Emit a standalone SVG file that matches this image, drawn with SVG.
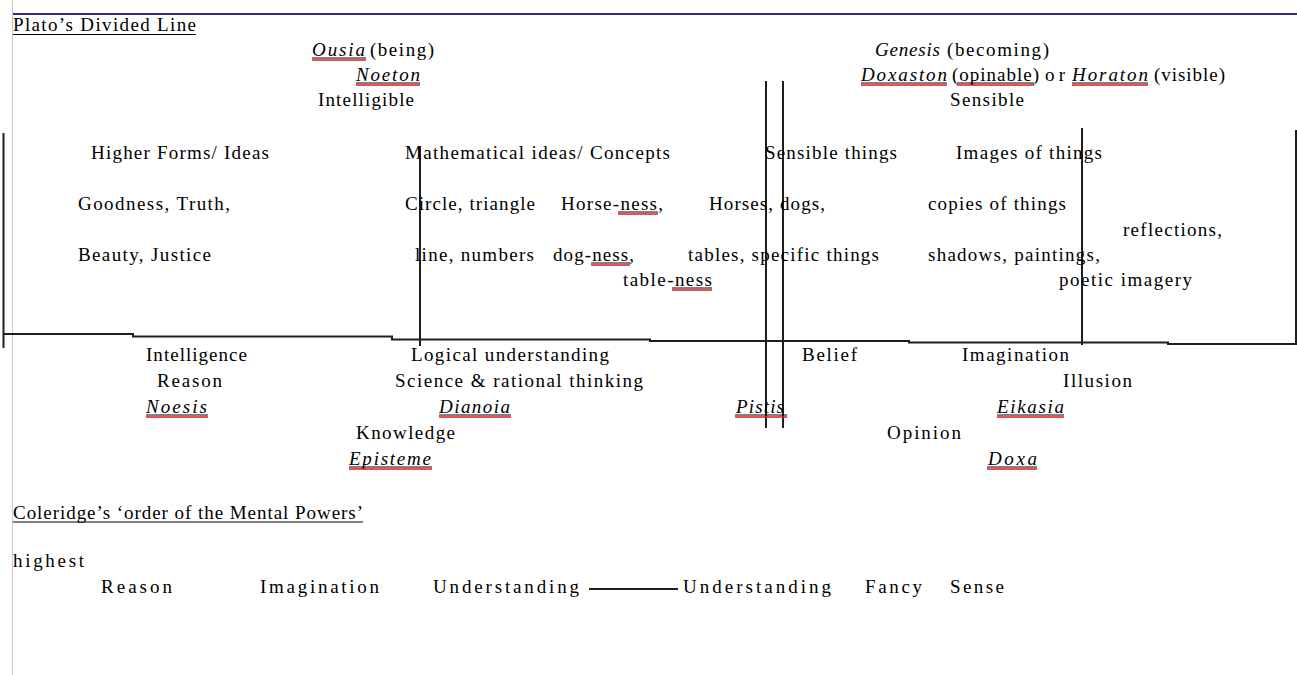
<svg xmlns="http://www.w3.org/2000/svg" width="1297" height="675" viewBox="0 0 1297 675">
<style>
text{font-family:"Liberation Serif","Times New Roman",serif;font-size:19px;fill:#000}
.i{font-style:italic}
.ul{stroke:#000;stroke-width:1}
.sp{stroke:#e8131b;stroke-width:1.5}
.ln{stroke:#1e1e1e;stroke-width:2;fill:none}
</style>
<rect width="1297" height="675" fill="#fff"/>
<g id="frame">
<line x1="12.5" y1="0" x2="12.5" y2="675" stroke="#c8c8c8" stroke-width="1"/>
<line x1="13" y1="14" x2="1297" y2="14" stroke="#2e2e8e" stroke-width="2"/>
</g>
<g id="connectors">
<line class="ln" x1="3.5" y1="133" x2="3.5" y2="348"/>
<line class="ln" x1="1296" y1="130" x2="1296" y2="345"/>
<polyline class="ln" points="3,334 133,334 133,336.5 392,336.5 392,339.5 650,339.5 650,341 909,341 909,342.5 1168,342.5 1168,344 1297,344"/>
<line class="ln" x1="420" y1="147" x2="420" y2="346"/>
<line class="ln" x1="766" y1="81" x2="766" y2="428"/>
<line class="ln" x1="783" y1="81" x2="783" y2="428"/>
<line class="ln" x1="1082" y1="128" x2="1082" y2="345"/>
<line class="ln" x1="589" y1="589" x2="678" y2="589" stroke-width="1.5"/>
</g>
<g id="title">
<text x="13" y="31" textLength="183">Plato’s Divided Line</text>
<line class="ul" x1="13" y1="34.5" x2="196" y2="34.5"/>
</g>
<g id="intelligible-head">
<text class="i" x="312" y="56" textLength="53">Ousia</text>
<text x="370" y="56" textLength="64">(being)</text>
<text class="i" x="356" y="81" textLength="64">Noeton</text>
<text x="318" y="106" textLength="96">Intelligible</text>
<line class="ul" x1="312" y1="58" x2="366" y2="58"/><line class="sp" x1="312" y1="60" x2="366" y2="60"/>
<line class="ul" x1="356" y1="83" x2="420" y2="83"/><line class="sp" x1="356" y1="85" x2="420" y2="85"/>
</g>
<g id="sensible-head">
<text class="i" x="875" y="56" textLength="65">Genesis</text>
<text x="947" y="56" textLength="102">(becoming)</text>
<text class="i" x="861" y="81" textLength="86">Doxaston</text>
<text x="952" y="81" textLength="87">(opinable)</text>
<text x="1045" y="81" textLength="20">or</text>
<text class="i" x="1072" y="81" textLength="76">Horaton</text>
<text x="1154" y="81" textLength="71">(visible)</text>
<text x="950" y="106" textLength="74">Sensible</text>
<line class="ul" x1="861" y1="83" x2="947" y2="83"/><line class="sp" x1="861" y1="85" x2="947" y2="85"/>
<line class="ul" x1="957" y1="83" x2="1034" y2="83"/><line class="sp" x1="957" y1="85" x2="1034" y2="85"/>
<line class="ul" x1="1072" y1="83" x2="1148" y2="83"/><line class="sp" x1="1072" y1="85" x2="1148" y2="85"/>
</g>
<g id="forms">
<text x="91" y="159" textLength="178">Higher Forms/ Ideas</text>
<text x="78" y="210" textLength="152">Goodness, Truth,</text>
<text x="78" y="261" textLength="133">Beauty, Justice</text>
</g>
<g id="math">
<text x="405" y="159" textLength="265">Mathematical ideas/ Concepts</text>
<text x="405" y="210" textLength="130">Circle, triangle</text>
<text x="561" y="210" textLength="102">Horse-ness,</text>
<text x="415" y="261" textLength="119">line, numbers</text>
<text x="553" y="261" textLength="81">dog-ness,</text>
<text x="623" y="286" textLength="89">table-ness</text>
<line class="ul" x1="618" y1="212" x2="658" y2="212"/><line class="sp" x1="618" y1="214" x2="658" y2="214"/>
<line class="ul" x1="591" y1="263" x2="630" y2="263"/><line class="sp" x1="591" y1="265" x2="630" y2="265"/>
<line class="ul" x1="672" y1="288" x2="712" y2="288"/><line class="sp" x1="672" y1="290" x2="712" y2="290"/>
</g>
<g id="things">
<text x="765" y="159" textLength="132">Sensible things</text>
<text x="709" y="210" textLength="116">Horses, dogs,</text>
<text x="688" y="261" textLength="191">tables, specific things</text>
</g>
<g id="images">
<text x="956" y="159" textLength="146">Images of things</text>
<text x="928" y="210" textLength="138">copies of things</text>
<text x="1123" y="236" textLength="99">reflections,</text>
<text x="928" y="261" textLength="172">shadows, paintings,</text>
<text x="1059" y="286" textLength="133">poetic imagery</text>
</g>
<g id="noesis">
<text x="146" y="361" textLength="101">Intelligence</text>
<text x="157" y="387" textLength="65">Reason</text>
<text class="i" x="146" y="413" textLength="61">Noesis</text>
<line class="ul" x1="146" y1="415" x2="208" y2="415"/><line class="sp" x1="146" y1="417" x2="208" y2="417"/>
</g>
<g id="dianoia">
<text x="411" y="361" textLength="198">Logical understanding</text>
<text x="395" y="387" textLength="248">Science  &amp; rational thinking</text>
<text class="i" x="439" y="413" textLength="71">Dianoia</text>
<line class="ul" x1="439" y1="415" x2="511" y2="415"/><line class="sp" x1="439" y1="417" x2="511" y2="417"/>
</g>
<g id="episteme">
<text x="356" y="439" textLength="99">Knowledge</text>
<text class="i" x="349" y="465" textLength="82">Episteme</text>
<line class="ul" x1="349" y1="467" x2="432" y2="467"/><line class="sp" x1="349" y1="469" x2="432" y2="469"/>
</g>
<g id="pistis">
<text x="802" y="361" textLength="55">Belief</text>
<text class="i" x="736" y="413" textLength="48">Pistis</text>
<line class="ul" x1="735" y1="415" x2="787" y2="415"/><line class="sp" x1="735" y1="417" x2="787" y2="417"/>
</g>
<g id="eikasia">
<text x="962" y="361" textLength="107">Imagination</text>
<text x="1063" y="387" textLength="69">Illusion</text>
<text class="i" x="997" y="413" textLength="67">Eikasia</text>
<line class="ul" x1="997" y1="415" x2="1064" y2="415"/><line class="sp" x1="997" y1="417" x2="1064" y2="417"/>
</g>
<g id="doxa">
<text x="887" y="439" textLength="74">Opinion</text>
<text class="i" x="988" y="465" textLength="49">Doxa</text>
<line class="ul" x1="987" y1="467" x2="1037" y2="467"/><line class="sp" x1="987" y1="469" x2="1037" y2="469"/>
</g>
<g id="coleridge">
<text x="13" y="519" textLength="350">Coleridge’s ‘order of the Mental Powers’</text>
<line class="ul" x1="13" y1="522" x2="363" y2="522"/>
<text x="13" y="567" textLength="71">highest</text>
<text x="101" y="593" textLength="71">Reason</text>
<text x="260" y="593" textLength="119">Imagination</text>
<text x="433" y="593" textLength="146">Understanding</text>
<text x="683" y="593" textLength="148">Understanding</text>
<text x="865" y="593" textLength="57">Fancy</text>
<text x="950" y="593" textLength="54">Sense</text>
</g>
</svg>
